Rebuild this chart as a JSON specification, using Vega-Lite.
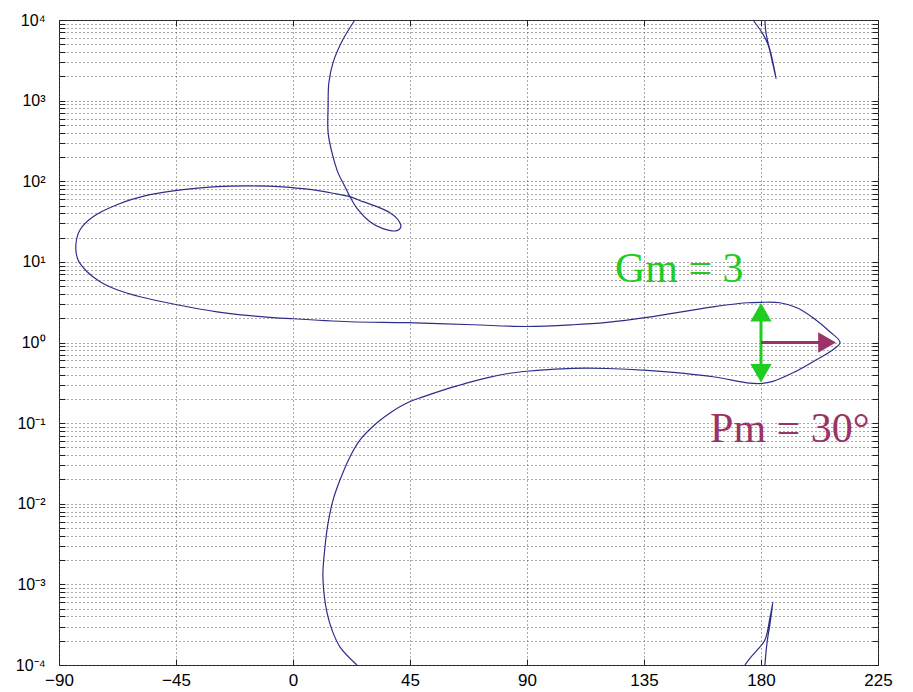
{
  "$schema": "https://vega.github.io/schema/vega-lite/v6.json",
  "autosize": {"type": "none"},
  "width": 819,
  "height": 645,
  "padding": {"left": 59, "top": 20, "right": 35, "bottom": 27},
  "background": "white",
  "view": {"stroke": "#222", "strokeWidth": 1},
  "config": {
    "axis": {"labelFont": "Liberation Sans", "labelFontSize": 17, "labelColor": "black", "tickColor": "#222", "gridColor": "#555", "gridDash": [1, 3], "gridWidth": 1, "gridOpacity": 1, "domain": false}
  },
  "datasets": {
    "curve": [
      {"seg": "A", "i": 1, "phase": 23.8, "gain": 10000},
      {"seg": "A", "i": 2, "phase": 19.2, "gain": 5720},
      {"seg": "A", "i": 3, "phase": 15.4, "gain": 2965},
      {"seg": "A", "i": 4, "phase": 13.8, "gain": 1675},
      {"seg": "A", "i": 5, "phase": 13.5, "gain": 843},
      {"seg": "A", "i": 6, "phase": 13.5, "gain": 401},
      {"seg": "A", "i": 7, "phase": 15.0, "gain": 226},
      {"seg": "A", "i": 8, "phase": 17.3, "gain": 128},
      {"seg": "A", "i": 9, "phase": 20.0, "gain": 85.7},
      {"seg": "A", "i": 10, "phase": 21.9, "gain": 64.4},
      {"seg": "A", "i": 11, "phase": 25.0, "gain": 44.4},
      {"seg": "A", "i": 12, "phase": 29.6, "gain": 31.5},
      {"seg": "A", "i": 13, "phase": 34.6, "gain": 25.8},
      {"seg": "A", "i": 14, "phase": 40.0, "gain": 24.4},
      {"seg": "A", "i": 15, "phase": 41.5, "gain": 27.3},
      {"seg": "A", "i": 16, "phase": 40.4, "gain": 33.3},
      {"seg": "A", "i": 17, "phase": 37.3, "gain": 40.7},
      {"seg": "A", "i": 18, "phase": 32.3, "gain": 48.4},
      {"seg": "A", "i": 19, "phase": 26.9, "gain": 55.8},
      {"seg": "A", "i": 20, "phase": 21.9, "gain": 64.4},
      {"seg": "A", "i": 21, "phase": 15.4, "gain": 71.0},
      {"seg": "A", "i": 22, "phase": 9.2, "gain": 77.0},
      {"seg": "A", "i": 23, "phase": 2.7, "gain": 81.5},
      {"seg": "A", "i": 24, "phase": -3.9, "gain": 85.0},
      {"seg": "A", "i": 25, "phase": -16.5, "gain": 87.5},
      {"seg": "A", "i": 26, "phase": -29.2, "gain": 85.7},
      {"seg": "A", "i": 27, "phase": -42.3, "gain": 78.7},
      {"seg": "A", "i": 28, "phase": -55.0, "gain": 68.1},
      {"seg": "A", "i": 29, "phase": -67.7, "gain": 51.2},
      {"seg": "A", "i": 30, "phase": -76.9, "gain": 36.3},
      {"seg": "A", "i": 31, "phase": -81.9, "gain": 25.0},
      {"seg": "A", "i": 32, "phase": -83.5, "gain": 16.3},
      {"seg": "A", "i": 33, "phase": -82.7, "gain": 10.6},
      {"seg": "A", "i": 34, "phase": -79.2, "gain": 7.55},
      {"seg": "A", "i": 35, "phase": -74.2, "gain": 5.67},
      {"seg": "A", "i": 36, "phase": -67.7, "gain": 4.51},
      {"seg": "A", "i": 37, "phase": -58.8, "gain": 3.69},
      {"seg": "A", "i": 38, "phase": -44.6, "gain": 2.94},
      {"seg": "A", "i": 39, "phase": -29.2, "gain": 2.40},
      {"seg": "A", "i": 40, "phase": -16.5, "gain": 2.15},
      {"seg": "A", "i": 41, "phase": 0.0, "gain": 1.97},
      {"seg": "A", "i": 42, "phase": 21.9, "gain": 1.81},
      {"seg": "A", "i": 43, "phase": 43.8, "gain": 1.76},
      {"seg": "A", "i": 44, "phase": 69.2, "gain": 1.66},
      {"seg": "A", "i": 45, "phase": 90.0, "gain": 1.58},
      {"seg": "A", "i": 46, "phase": 107.7, "gain": 1.66},
      {"seg": "A", "i": 47, "phase": 120.8, "gain": 1.78},
      {"seg": "A", "i": 48, "phase": 136.2, "gain": 2.05},
      {"seg": "A", "i": 49, "phase": 161.5, "gain": 2.77},
      {"seg": "A", "i": 50, "phase": 174.6, "gain": 3.11},
      {"seg": "A", "i": 51, "phase": 180.0, "gain": 3.15},
      {"seg": "A", "i": 52, "phase": 187.3, "gain": 3.11},
      {"seg": "A", "i": 53, "phase": 193.8, "gain": 2.70},
      {"seg": "A", "i": 54, "phase": 200.0, "gain": 2.03},
      {"seg": "A", "i": 55, "phase": 206.5, "gain": 1.36},
      {"seg": "A", "i": 56, "phase": 210.4, "gain": 1.0},
      {"seg": "A", "i": 57, "phase": 206.5, "gain": 0.767},
      {"seg": "A", "i": 58, "phase": 200.0, "gain": 0.577},
      {"seg": "A", "i": 59, "phase": 192.3, "gain": 0.421},
      {"seg": "A", "i": 60, "phase": 184.6, "gain": 0.33},
      {"seg": "A", "i": 61, "phase": 180.0, "gain": 0.31},
      {"seg": "A", "i": 62, "phase": 174.6, "gain": 0.316},
      {"seg": "A", "i": 63, "phase": 161.5, "gain": 0.376},
      {"seg": "A", "i": 64, "phase": 136.2, "gain": 0.45},
      {"seg": "A", "i": 65, "phase": 120.8, "gain": 0.476},
      {"seg": "A", "i": 66, "phase": 107.7, "gain": 0.478},
      {"seg": "A", "i": 67, "phase": 98.0, "gain": 0.462},
      {"seg": "A", "i": 68, "phase": 90.0, "gain": 0.44},
      {"seg": "A", "i": 69, "phase": 82.3, "gain": 0.41},
      {"seg": "A", "i": 70, "phase": 75.8, "gain": 0.372},
      {"seg": "A", "i": 71, "phase": 69.2, "gain": 0.33},
      {"seg": "A", "i": 72, "phase": 63.1, "gain": 0.29},
      {"seg": "A", "i": 73, "phase": 57.7, "gain": 0.257},
      {"seg": "A", "i": 74, "phase": 50.0, "gain": 0.212},
      {"seg": "A", "i": 75, "phase": 43.8, "gain": 0.178},
      {"seg": "A", "i": 76, "phase": 37.3, "gain": 0.134},
      {"seg": "A", "i": 77, "phase": 32.3, "gain": 0.101},
      {"seg": "A", "i": 78, "phase": 25.8, "gain": 0.0619},
      {"seg": "A", "i": 79, "phase": 21.9, "gain": 0.0381},
      {"seg": "A", "i": 80, "phase": 18.1, "gain": 0.0198},
      {"seg": "A", "i": 81, "phase": 15.4, "gain": 0.0111},
      {"seg": "A", "i": 82, "phase": 13.5, "gain": 0.00578},
      {"seg": "A", "i": 83, "phase": 12.3, "gain": 0.00291},
      {"seg": "A", "i": 84, "phase": 11.5, "gain": 0.00138},
      {"seg": "A", "i": 85, "phase": 11.9, "gain": 0.000781},
      {"seg": "A", "i": 86, "phase": 13.1, "gain": 0.000442},
      {"seg": "A", "i": 87, "phase": 15.0, "gain": 0.000272},
      {"seg": "A", "i": 88, "phase": 18.1, "gain": 0.000167},
      {"seg": "A", "i": 89, "phase": 24.6, "gain": 0.0001},
      {"seg": "B", "i": 1, "phase": 176.9, "gain": 10000},
      {"seg": "B", "i": 2, "phase": 180.4, "gain": 6980},
      {"seg": "B", "i": 3, "phase": 182.7, "gain": 4955},
      {"seg": "B", "i": 4, "phase": 184.6, "gain": 2795},
      {"seg": "B", "i": 5, "phase": 185.8, "gain": 1875},
      {"seg": "B", "i": 6, "phase": 184.2, "gain": 3420},
      {"seg": "B", "i": 7, "phase": 182.7, "gain": 5250},
      {"seg": "B", "i": 8, "phase": 181.9, "gain": 6980},
      {"seg": "B", "i": 9, "phase": 181.5, "gain": 10000},
      {"seg": "C", "i": 1, "phase": 181.5, "gain": 0.0001},
      {"seg": "C", "i": 2, "phase": 182.3, "gain": 0.000187},
      {"seg": "C", "i": 3, "phase": 183.5, "gain": 0.000331},
      {"seg": "C", "i": 4, "phase": 184.6, "gain": 0.000604},
      {"seg": "C", "i": 5, "phase": 183.5, "gain": 0.000394},
      {"seg": "C", "i": 6, "phase": 181.5, "gain": 0.000204},
      {"seg": "C", "i": 7, "phase": 178.5, "gain": 0.000153},
      {"seg": "C", "i": 8, "phase": 175.8, "gain": 0.000122},
      {"seg": "C", "i": 9, "phase": 173.8, "gain": 0.0001}
    ]
  },
  "resolve": {"axis": {"x": "independent", "y": "independent"}},
  "layer": [
    {
      "data": {"name": "curve"},
      "mark": {"type": "line", "color": "#2e2e8a", "strokeWidth": 1.2, "interpolate": "catmull-rom"},
      "encoding": {
        "x": {"field": "phase", "type": "quantitative", "scale": {"domain": [-90, 225], "nice": false, "zero": false},
          "axis": {"title": null, "orient": "bottom", "values": [-90, -45, 0, 45, 90, 135, 180, 225], "grid": true, "tickSize": -6, "labelPadding": 13, "labelFlush": false, "labelOverlap": false}},
        "y": {"field": "gain", "type": "quantitative", "scale": {"type": "log", "domain": [0.0001, 10000], "nice": false},
          "axis": {"title": null, "orient": "left", "grid": true, "tickSize": -6, "labelPadding": 20, "labelFontSize": 16, "labelOverlap": false, "labelFlush": false,
            "values": [0.0001,0.0002,0.0003,0.0004,0.0005,0.0006,0.0007,0.0008,0.0009,0.001,0.002,0.003,0.004,0.005,0.006,0.007,0.008,0.009,0.01,0.02,0.03,0.04,0.05,0.06,0.07,0.08,0.09,0.1,0.2,0.3,0.4,0.5,0.6,0.7,0.8,0.9,1,2,3,4,5,6,7,8,9,10,20,30,40,50,60,70,80,90,100,200,300,400,500,600,700,800,900,1000,2000,3000,4000,5000,6000,7000,8000,9000,10000],
            "labelExpr": "abs(log(datum.value)/LN10 - round(log(datum.value)/LN10)) < 0.001 ? '10' + ['⁻⁴','⁻³','⁻²','⁻¹','⁰','¹','²','³','⁴'][round(log(datum.value)/LN10)+4] : ''"}},
        "detail": {"field": "seg"},
        "order": {"field": "i"}
      }
    },
    {
      "data": {"values": [{"phase": 180, "g1": 0.415, "g2": 2.37}]},
      "mark": {"type": "rule", "color": "#1fcc1f", "strokeWidth": 3},
      "encoding": {
        "x": {"field": "phase", "type": "quantitative", "axis": null},
        "y": {"field": "g1", "type": "quantitative", "axis": null},
        "y2": {"field": "g2"}
      }
    },
    {
      "data": {"values": [{"p1": 180, "p2": 205.4, "gain": 1}]},
      "mark": {"type": "rule", "color": "#9a3366", "strokeWidth": 3},
      "encoding": {
        "x": {"field": "p1", "type": "quantitative", "axis": null},
        "x2": {"field": "p2"},
        "y": {"field": "gain", "type": "quantitative", "axis": null}
      }
    },
    {
      "data": {"values": [{"phase": 180, "gain": 2.37, "dir": "up"}, {"phase": 180, "gain": 0.415, "dir": "down"}]},
      "mark": {"type": "point", "filled": true, "opacity": 1, "color": "#1fcc1f", "size": 450},
      "encoding": {
        "x": {"field": "phase", "type": "quantitative", "axis": null},
        "y": {"field": "gain", "type": "quantitative", "axis": null},
        "shape": {"field": "dir", "type": "nominal", "scale": {"domain": ["up", "down"], "range": ["triangle-up", "triangle-down"]}, "legend": null}
      }
    },
    {
      "data": {"values": [{"phase": 205.4, "gain": 1}]},
      "mark": {"type": "point", "filled": true, "opacity": 1, "color": "#9a3366", "size": 420, "shape": "triangle-right"},
      "encoding": {
        "x": {"field": "phase", "type": "quantitative", "axis": null},
        "y": {"field": "gain", "type": "quantitative", "axis": null}
      }
    },
    {
      "data": {"values": [{"phase": 123.8, "gain": 5.56, "label": "Gm = 3"}]},
      "mark": {"type": "text", "color": "#1fcc1f", "font": "Liberation Serif", "fontSize": 42, "align": "left", "baseline": "alphabetic"},
      "encoding": {
        "x": {"field": "phase", "type": "quantitative", "axis": {"orient": "top", "title": null, "labels": false, "grid": false, "tickSize": -6, "values": [-90, -45, 0, 45, 90, 135, 180, 225]}},
        "y": {"field": "gain", "type": "quantitative", "axis": {"orient": "right", "title": null, "labels": false, "grid": false, "tickSize": -6,
          "values": [0.0001,0.0002,0.0003,0.0004,0.0005,0.0006,0.0007,0.0008,0.0009,0.001,0.002,0.003,0.004,0.005,0.006,0.007,0.008,0.009,0.01,0.02,0.03,0.04,0.05,0.06,0.07,0.08,0.09,0.1,0.2,0.3,0.4,0.5,0.6,0.7,0.8,0.9,1,2,3,4,5,6,7,8,9,10,20,30,40,50,60,70,80,90,100,200,300,400,500,600,700,800,900,1000,2000,3000,4000,5000,6000,7000,8000,9000,10000]}},
        "text": {"field": "label"}
      }
    },
    {
      "data": {"values": [{"phase": 160.4, "gain": 0.059, "label": "Pm = 30°"}]},
      "mark": {"type": "text", "color": "#9a3366", "font": "Liberation Serif", "fontSize": 42, "align": "left", "baseline": "alphabetic"},
      "encoding": {
        "x": {"field": "phase", "type": "quantitative", "axis": null},
        "y": {"field": "gain", "type": "quantitative", "axis": null},
        "text": {"field": "label"}
      }
    }
  ]
}
